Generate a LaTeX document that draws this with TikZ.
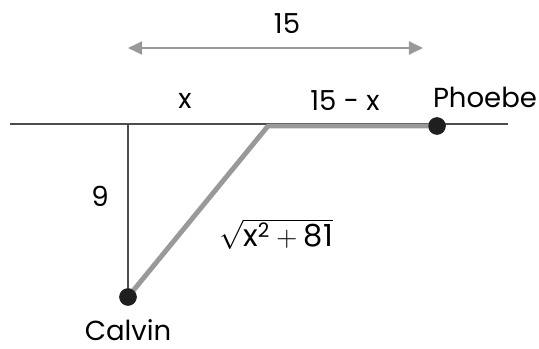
\documentclass[tikz,border=0pt]{standalone}
\usepackage{fontspec}
\setmainfont{Poppins}
\usetikzlibrary{positioning, arrows.meta}

\begin{document}
\begin{tikzpicture}[
    x=0.03cm, y=-0.03cm,
    font=\fontsize{23.5}{27}\selectfont,
    thinline/.style={draw=black!70, line width=1pt},
    path/.style={draw=black!40, line width=4.2pt},
    dot/.style={circle, fill=black!88, inner sep=0pt, minimum size=0.52cm},
    span/.style={{Triangle[length=12pt, width=11pt]}-{Triangle[length=12pt, width=11pt]}, draw=black!40, line width=2.2pt},
    lbl/.style={inner sep=1pt},
  ]
    \useasboundingbox (0,0) rectangle (539,349);

    % ground line and points
    \coordinate (left) at (10,124);
    \coordinate (right) at (508,124);
    \coordinate (foot) at (128,124);
    \coordinate (turn) at (268,126);
    \node[dot] (calvin) at (128,297) {};
    \node[dot] (phoebe) at (437,126) {};

    % lines
    \draw[thinline] (left) -- (right);
    \draw[thinline] (foot) -- (calvin.center);
    \draw[path, line join=miter] (calvin.center) -- (turn) -- (phoebe.center);
    \node[dot] at (calvin) {};
    \node[dot] at (phoebe) {};

    % distance arrow
    \coordinate (spanl) at (128,48);
    \coordinate (spanr) at (423,48);
    \draw[span] (spanl) -- (spanr);

    % labels
    \node[lbl] (total) at (287,24) {15};
    \node[lbl] (xlab) at (185,101) {x};
    \node[lbl] (rest) at (345,101) {15 - x};
    \node[lbl] (plab) at (485,97) {Phoebe};
    \node[lbl] (nine) at (100,196) {9};
    \node[lbl] (hyp) at (276,234) {\fontsize{26}{30}\selectfont$\sqrt{\textrm{x}^{\textrm{\fontsize{17}{19}\selectfont 2}}+\textrm{81}}$};
    \node[lbl] (clab) at (128,330) {Calvin};
\end{tikzpicture}
\end{document}
